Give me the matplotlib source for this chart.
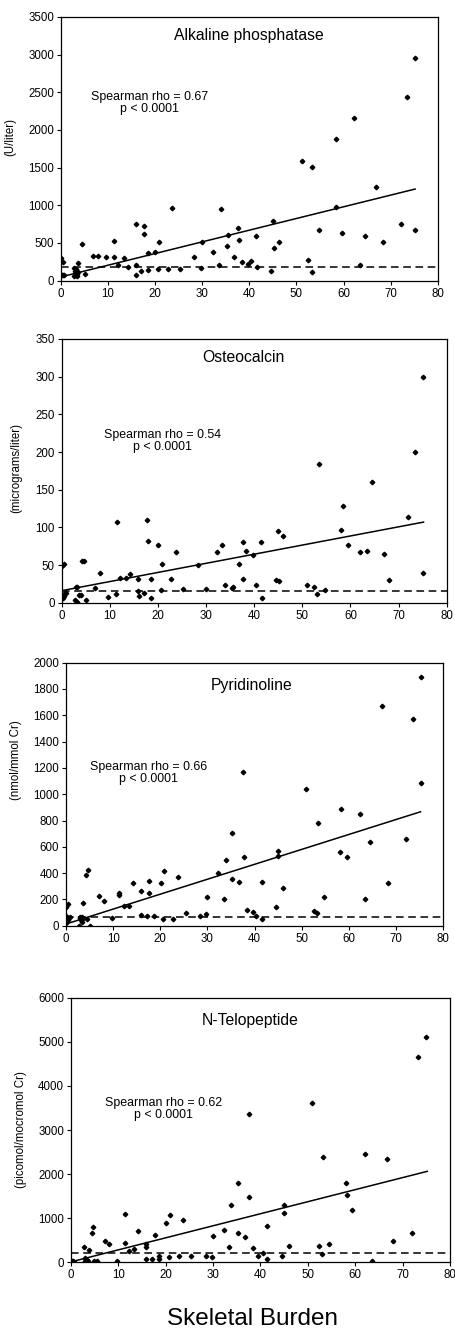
import matplotlib
matplotlib.use('Agg')
import matplotlib.pyplot as plt
import numpy as np

plt.rcParams['font.family'] = ['Liberation Sans', 'DejaVu Sans']

# ---- Alkaline phosphatase ----
alp_x = [0, 0.35, 0.2, 0.5, 0.7, 2.7, 2.8, 2.9, 3.0, 3.1, 3.2, 3.3, 3.4, 3.5, 3.6,
         3.7, 4.5, 5.2, 6.9, 7.9, 9.6, 11.3, 11.3, 12.2, 13.4, 14.2, 15.9, 15.9, 15.9,
         17.1, 17.7, 17.7, 18.5, 18.5, 20.0, 20.7, 20.9, 22.7, 23.6, 25.3, 28.3, 29.8,
         30.0, 32.2, 33.5, 33.9, 35.3, 35.5, 36.8, 37.6, 37.8, 38.5, 39.8, 40.3, 41.5,
         41.7, 44.5, 45.0, 45.2, 46.2, 51.1, 52.5, 53.3, 53.3, 54.8, 58.4, 58.4, 59.7,
         62.3, 63.5, 64.6, 67.0, 68.3, 72.1, 73.5, 75.2, 75.2]
alp_y = [296, 252, 75, 75, 75, 60, 170, 100, 130, 80, 150, 110, 60, 90, 120,
         230, 490, 84, 323, 327, 314, 522, 314, 208, 305, 177, 747, 208, 75,
         128, 720, 614, 371, 137, 380, 150, 508, 150, 968, 150, 314, 172,
         517, 385, 208, 950, 455, 601, 314, 698, 544, 243, 221, 261, 588,
         177, 128, 791, 429, 508, 1591, 274, 1503, 119, 672, 1878, 977, 636,
         2161, 203, 588, 1238, 508, 747, 2431, 672, 2952]

# ---- Osteocalcin ----
oc_x = [0.1, 0.55, 0.3, 0.6, 0.5, 0.8, 2.9, 3.2, 2.8, 3.2, 3.5, 4.0, 4.2, 4.7,
        5.0, 7.0, 8.0, 9.7, 11.3, 11.5, 12.1, 13.3, 14.2, 15.9, 15.9, 16.0, 17.2,
        17.7, 17.9, 18.6, 18.6, 20.1, 20.7, 20.8, 22.8, 23.8, 25.3, 28.3, 30.0,
        32.3, 33.4, 33.9, 35.3, 35.5, 36.8, 37.7, 37.7, 38.4, 39.8, 40.4, 41.6,
        41.5, 44.5, 44.9, 45.9, 45.2, 51.0, 52.4, 53.0, 53.4, 54.7, 58.0, 58.4,
        59.6, 62.0, 63.4, 64.4, 67.0, 68.1, 71.9, 73.4, 75.0, 75.0]
oc_y = [49, 51, 6, 13, 9, 13, 21, 21, 4, 1, 10, 10, 55, 55,
        3.5, 19, 40, 8, 11, 107, 33, 33, 38, 31, 16, 9, 13,
        110, 82, 31, 6, 77, 17, 51, 31, 67, 18, 50, 18,
        67, 77, 23, 19, 21, 52, 80, 31, 69, 63, 23, 6,
        80, 30, 95, 89, 29, 24, 21, 12, 184, 17, 96, 129,
        77, 67, 69, 160, 65, 30, 114, 200, 299, 40]

# ---- Pyridinoline ----
pyd_x = [0, 0.1, 0.5, 0.05, 0.5, 0.8, 2.7, 2.9, 3.0, 3.1, 3.2, 3.3, 3.4, 3.5,
         3.7, 4.2, 4.7, 4.5, 5.1, 7.0, 8.0, 9.8, 11.3, 11.3, 12.3, 13.4, 14.2,
         15.9, 15.9, 17.1, 17.7, 17.7, 18.7, 20.1, 20.6, 20.8, 22.8, 23.7, 25.4,
         28.4, 29.8, 30.0, 32.3, 33.5, 33.9, 35.3, 35.3, 36.7, 37.6, 37.8, 38.4,
         39.7, 40.4, 41.6, 41.5, 44.5, 45.0, 45.0, 46.1, 51.0, 52.6, 53.2, 53.4,
         54.8, 58.2, 58.4, 59.6, 62.3, 63.5, 64.4, 67.0, 68.2, 72.1, 73.5, 75.2, 75.2]
pyd_y = [74, 145, 165, 18, 43, 68, 0, 60, 70, 40, 55, 30, 65, 50,
         170, 385, 423, 48, 0, 226, 190, 61, 251, 233, 150, 150, 322,
         266, 81, 74, 337, 246, 74, 327, 48, 413, 48, 373, 94,
         74, 86, 221, 398, 200, 499, 707, 352, 335, 1171, 520, 119,
         106, 74, 48, 335, 145, 570, 530, 284, 1037, 114, 94, 783,
         221, 563, 890, 525, 849, 200, 636, 1673, 322, 659, 1574, 1891, 1082]

# ---- N-Telopeptide ----
ntx_x = [0.1, 0.3, 0.5, 0.7, 2.8, 2.9, 3.0, 3.1, 3.3, 3.5, 3.8, 4.4, 4.6, 4.9,
         5.4, 7.1, 8.0, 9.7, 11.4, 11.4, 12.2, 13.4, 14.2, 15.8, 15.8, 15.9, 17.2,
         17.8, 18.6, 18.6, 20.0, 20.7, 21.0, 22.7, 23.7, 25.3, 28.4, 29.8, 29.9,
         32.2, 33.4, 33.8, 35.2, 35.2, 36.7, 37.6, 37.6, 38.4, 39.5, 40.5, 41.4,
         41.4, 44.5, 45.0, 45.0, 46.0, 50.9, 52.3, 53.0, 53.1, 54.5, 58.1, 58.2,
         59.4, 62.1, 63.5, 66.6, 68.0, 71.9, 73.3, 74.9]
ntx_y = [5, 20, 40, 15, 340, 40, 90, 20, 60, 30, 272, 657, 809, 20,
         30, 484, 423, 30, 1096, 446, 257, 310, 710, 416, 355, 76, 76,
         620, 150, 76, 899, 113, 1073, 144, 960, 151, 144, 128, 597,
         733, 340, 1292, 1791, 673, 582, 3363, 1474, 317, 144, 219, 831,
         68, 144, 1126, 1300, 378, 3605, 370, 189, 2380, 408, 1791, 1534,
         1186, 2448, 38, 2350, 491, 657, 4648, 5116]

titles = ['Alkaline phosphatase', 'Osteocalcin', 'Pyridinoline', 'N-Telopeptide']
ylabels = ['(U/liter)', '(micrograms/liter)', '(nmol/mmol Cr)', '(picomol/mocromol Cr)']
rhos = ['0.67', '0.54', '0.66', '0.62']
ymaxes = [3500, 350, 2000, 6000]
ysteps = [500, 50, 200, 1000]
# regression line (intercept, slope) and upper normal limit
fit_intercept = [50, 16, 13, 10]
fit_slope = [15.5, 1.21, 11.35, 27.3]
normal_limit = [185, 16, 66, 204]
fit_xmax = 75.2

data = [(alp_x, alp_y), (oc_x, oc_y), (pyd_x, pyd_y), (ntx_x, ntx_y)]

# layout (figure fractions) and text positions (axes fractions)
boxes = [[0.134, 0.7893, 0.828, 0.198],
         [0.1356, 0.5475, 0.846, 0.198],
         [0.145, 0.305, 0.829, 0.1975],
         [0.156, 0.0523, 0.833, 0.1987]]
title_pos = [(0.50, 0.93), (0.471, 0.93), (0.492, 0.915), (0.472, 0.912)]
note_pos = [(0.236, 0.675), (0.263, 0.615), (0.22, 0.58), (0.245, 0.58)]
ylabel_pos = [(-0.119, 0.544), (-0.103, 0.51), (-0.117, 0.63), (-0.116, 0.5)]

fig = plt.figure(figsize=(4.55, 13.32), dpi=100)

for i in range(4):
    ax = fig.add_axes(boxes[i])
    x, y = data[i]
    ax.plot(x, y, linestyle='none', marker='D', markersize=2.3, color='black')
    xs = np.array([0, fit_xmax])
    ax.plot(xs, fit_intercept[i] + fit_slope[i] * xs, color='black', linewidth=1.1)
    ax.axhline(normal_limit[i], color='black', linestyle=(0, (5, 3)), linewidth=1.1)

    ax.set_xlim(0, 80)
    ax.set_ylim(0, ymaxes[i])
    ax.set_xticks(range(0, 81, 10))
    ax.set_yticks(np.arange(0, ymaxes[i] + 1, ysteps[i]))
    ax.tick_params(direction='out', length=3, width=0.8, labelsize=8.3, pad=2)
    ax.tick_params(axis='x', top=False)
    for s in ax.spines.values():
        s.set_linewidth(0.9)

    ax.set_ylabel(ylabels[i], fontsize=8.3)
    ax.yaxis.set_label_coords(*ylabel_pos[i])
    ax.text(title_pos[i][0], title_pos[i][1], titles[i], transform=ax.transAxes,
            ha='center', va='center', fontsize=11.3)
    ax.text(note_pos[i][0], note_pos[i][1],
            'Spearman rho = ' + rhos[i] + '\np < 0.0001', transform=ax.transAxes,
            ha='center', va='center', fontsize=8.9, linespacing=1.0)

fig.text(0.556, 0.0095, 'Skeletal Burden', ha='center', va='center', fontsize=17.5)

fig.savefig('out.png', dpi=100)
